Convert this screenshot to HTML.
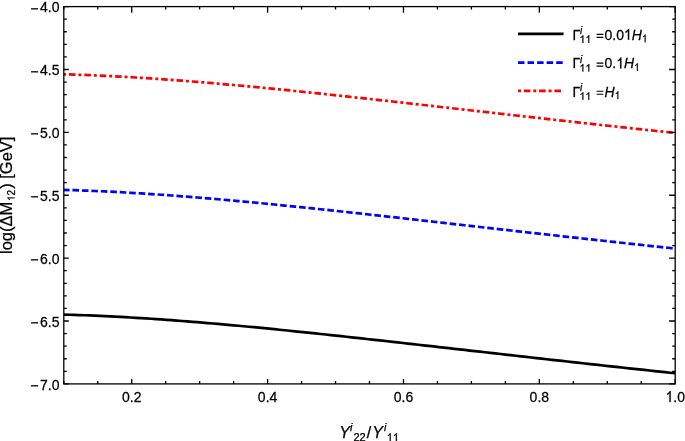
<!DOCTYPE html>
<html><head><meta charset="utf-8"><style>
html,body{margin:0;padding:0;background:#fff;}
svg{display:block;will-change:transform;}
text{font-family:"Liberation Sans",sans-serif;fill:#000;font-kerning:none;stroke:#000;stroke-width:0.25px;}
.one{stroke:#000;stroke-width:0.25px;vector-effect:non-scaling-stroke;}
.it{font-style:italic;}
.h,.hx,.hH{fill:transparent;stroke:none;}
</style></head><body>
<svg width="685" height="441" viewBox="0 0 685 441">
<rect width="685" height="441" fill="#fff"/>
<defs><clipPath id="c"><rect x="63.80" y="6.60" width="611.40" height="377.30"/></clipPath></defs>

<g clip-path="url(#c)" fill="none" stroke-width="2.7">
<polyline points="63.80,74.31 68.94,74.45 74.08,74.61 79.21,74.78 84.35,74.97 89.49,75.16 94.63,75.38 99.76,75.60 104.90,75.84 110.04,76.08 115.18,76.34 120.32,76.61 125.45,76.90 130.59,77.19 135.73,77.49 140.87,77.81 146.01,78.14 151.14,78.47 156.28,78.82 161.42,79.17 166.56,79.53 171.69,79.91 176.83,80.29 181.97,80.68 187.11,81.08 192.25,81.48 197.38,81.90 202.52,82.32 207.66,82.75 212.80,83.19 217.93,83.63 223.07,84.08 228.21,84.54 233.35,85.00 238.49,85.47 243.62,85.95 248.76,86.43 253.90,86.91 259.04,87.41 264.17,87.90 269.31,88.41 274.45,88.91 279.59,89.43 284.73,89.94 289.86,90.46 295.00,90.99 300.14,91.52 305.28,92.05 310.42,92.59 315.55,93.13 320.69,93.67 325.83,94.21 330.97,94.76 336.10,95.31 341.24,95.87 346.38,96.43 351.52,96.99 356.66,97.55 361.79,98.11 366.93,98.68 372.07,99.25 377.21,99.81 382.34,100.39 387.48,100.96 392.62,101.53 397.76,102.11 402.90,102.68 408.03,103.26 413.17,103.84 418.31,104.42 423.45,105.00 428.58,105.58 433.72,106.16 438.86,106.74 444.00,107.32 449.14,107.91 454.27,108.49 459.41,109.07 464.55,109.65 469.69,110.24 474.83,110.82 479.96,111.40 485.10,111.98 490.24,112.56 495.38,113.15 500.51,113.73 505.65,114.31 510.79,114.89 515.93,115.47 521.07,116.04 526.20,116.62 531.34,117.20 536.48,117.77 541.62,118.35 546.75,118.92 551.89,119.50 557.03,120.07 562.17,120.64 567.31,121.21 572.44,121.78 577.58,122.35 582.72,122.92 587.86,123.49 592.99,124.05 598.13,124.62 603.27,125.18 608.41,125.75 613.55,126.31 618.68,126.87 623.82,127.43 628.96,127.99 634.10,128.55 639.24,129.11 644.37,129.66 649.51,130.22 654.65,130.77 659.79,131.33 664.92,131.88 670.06,132.43 675.20,132.98" stroke="#f00" stroke-dasharray="6.6 2.9 3.0 2.89" stroke-dashoffset="10.24"/>
<polyline points="63.80,189.91 68.94,190.05 74.08,190.21 79.21,190.38 84.35,190.57 89.49,190.76 94.63,190.98 99.76,191.20 104.90,191.44 110.04,191.68 115.18,191.94 120.32,192.21 125.45,192.50 130.59,192.79 135.73,193.09 140.87,193.41 146.01,193.74 151.14,194.07 156.28,194.42 161.42,194.77 166.56,195.13 171.69,195.51 176.83,195.89 181.97,196.28 187.11,196.68 192.25,197.08 197.38,197.50 202.52,197.92 207.66,198.35 212.80,198.79 217.93,199.23 223.07,199.68 228.21,200.14 233.35,200.60 238.49,201.07 243.62,201.55 248.76,202.03 253.90,202.51 259.04,203.01 264.17,203.50 269.31,204.01 274.45,204.51 279.59,205.03 284.73,205.54 289.86,206.06 295.00,206.59 300.14,207.12 305.28,207.65 310.42,208.19 315.55,208.73 320.69,209.27 325.83,209.81 330.97,210.36 336.10,210.91 341.24,211.47 346.38,212.03 351.52,212.59 356.66,213.15 361.79,213.71 366.93,214.28 372.07,214.85 377.21,215.41 382.34,215.99 387.48,216.56 392.62,217.13 397.76,217.71 402.90,218.28 408.03,218.86 413.17,219.44 418.31,220.02 423.45,220.60 428.58,221.18 433.72,221.76 438.86,222.34 444.00,222.92 449.14,223.51 454.27,224.09 459.41,224.67 464.55,225.25 469.69,225.84 474.83,226.42 479.96,227.00 485.10,227.58 490.24,228.16 495.38,228.75 500.51,229.33 505.65,229.91 510.79,230.49 515.93,231.07 521.07,231.64 526.20,232.22 531.34,232.80 536.48,233.37 541.62,233.95 546.75,234.52 551.89,235.10 557.03,235.67 562.17,236.24 567.31,236.81 572.44,237.38 577.58,237.95 582.72,238.52 587.86,239.09 592.99,239.65 598.13,240.22 603.27,240.78 608.41,241.35 613.55,241.91 618.68,242.47 623.82,243.03 628.96,243.59 634.10,244.15 639.24,244.71 644.37,245.26 649.51,245.82 654.65,246.37 659.79,246.93 664.92,247.48 670.06,248.03 675.20,248.58" stroke="#00f" stroke-dasharray="6.6 2.87" stroke-dashoffset="0.83"/>
<polyline points="63.80,314.61 68.94,314.75 74.08,314.91 79.21,315.08 84.35,315.27 89.49,315.46 94.63,315.68 99.76,315.90 104.90,316.14 110.04,316.38 115.18,316.64 120.32,316.91 125.45,317.20 130.59,317.49 135.73,317.79 140.87,318.11 146.01,318.44 151.14,318.77 156.28,319.12 161.42,319.47 166.56,319.83 171.69,320.21 176.83,320.59 181.97,320.98 187.11,321.38 192.25,321.78 197.38,322.20 202.52,322.62 207.66,323.05 212.80,323.49 217.93,323.93 223.07,324.38 228.21,324.84 233.35,325.30 238.49,325.77 243.62,326.25 248.76,326.73 253.90,327.21 259.04,327.71 264.17,328.20 269.31,328.71 274.45,329.21 279.59,329.73 284.73,330.24 289.86,330.76 295.00,331.29 300.14,331.82 305.28,332.35 310.42,332.89 315.55,333.43 320.69,333.97 325.83,334.51 330.97,335.06 336.10,335.61 341.24,336.17 346.38,336.73 351.52,337.29 356.66,337.85 361.79,338.41 366.93,338.98 372.07,339.55 377.21,340.11 382.34,340.69 387.48,341.26 392.62,341.83 397.76,342.41 402.90,342.98 408.03,343.56 413.17,344.14 418.31,344.72 423.45,345.30 428.58,345.88 433.72,346.46 438.86,347.04 444.00,347.62 449.14,348.21 454.27,348.79 459.41,349.37 464.55,349.95 469.69,350.54 474.83,351.12 479.96,351.70 485.10,352.28 490.24,352.86 495.38,353.45 500.51,354.03 505.65,354.61 510.79,355.19 515.93,355.77 521.07,356.34 526.20,356.92 531.34,357.50 536.48,358.07 541.62,358.65 546.75,359.22 551.89,359.80 557.03,360.37 562.17,360.94 567.31,361.51 572.44,362.08 577.58,362.65 582.72,363.22 587.86,363.79 592.99,364.35 598.13,364.92 603.27,365.48 608.41,366.05 613.55,366.61 618.68,367.17 623.82,367.73 628.96,368.29 634.10,368.85 639.24,369.41 644.37,369.96 649.51,370.52 654.65,371.07 659.79,371.63 664.92,372.18 670.06,372.73 675.20,373.28" stroke="#000"/>
</g>
<rect x="63.8" y="6.6" width="611.4000000000001" height="377.29999999999995" fill="none" stroke="#000" stroke-width="1.3"/>
<path d="M63.8,6.60h5.0M675.2,6.60h-6.1M63.8,19.18h3.0M675.2,19.18h-3.0M63.8,31.75h3.0M675.2,31.75h-3.0M63.8,44.33h3.0M675.2,44.33h-3.0M63.8,56.91h3.0M675.2,56.91h-3.0M63.8,69.48h5.0M675.2,69.48h-6.1M63.8,82.06h3.0M675.2,82.06h-3.0M63.8,94.64h3.0M675.2,94.64h-3.0M63.8,107.21h3.0M675.2,107.21h-3.0M63.8,119.79h3.0M675.2,119.79h-3.0M63.8,132.37h5.0M675.2,132.37h-6.1M63.8,144.94h3.0M675.2,144.94h-3.0M63.8,157.52h3.0M675.2,157.52h-3.0M63.8,170.10h3.0M675.2,170.10h-3.0M63.8,182.67h3.0M675.2,182.67h-3.0M63.8,195.25h5.0M675.2,195.25h-6.1M63.8,207.83h3.0M675.2,207.83h-3.0M63.8,220.40h3.0M675.2,220.40h-3.0M63.8,232.98h3.0M675.2,232.98h-3.0M63.8,245.56h3.0M675.2,245.56h-3.0M63.8,258.13h5.0M675.2,258.13h-6.1M63.8,270.71h3.0M675.2,270.71h-3.0M63.8,283.29h3.0M675.2,283.29h-3.0M63.8,295.86h3.0M675.2,295.86h-3.0M63.8,308.44h3.0M675.2,308.44h-3.0M63.8,321.02h5.0M675.2,321.02h-6.1M63.8,333.59h3.0M675.2,333.59h-3.0M63.8,346.17h3.0M675.2,346.17h-3.0M63.8,358.75h3.0M675.2,358.75h-3.0M63.8,371.32h3.0M675.2,371.32h-3.0M63.8,383.90h5.0M675.2,383.90h-6.1M63.80,383.9v-3.0M63.80,6.6v3.0M97.77,383.9v-3.0M97.77,6.6v3.0M131.73,383.9v-5.0M131.73,6.6v6.1M165.70,383.9v-3.0M165.70,6.6v3.0M199.67,383.9v-3.0M199.67,6.6v3.0M233.63,383.9v-3.0M233.63,6.6v3.0M267.60,383.9v-5.0M267.60,6.6v6.1M301.57,383.9v-3.0M301.57,6.6v3.0M335.53,383.9v-3.0M335.53,6.6v3.0M369.50,383.9v-3.0M369.50,6.6v3.0M403.47,383.9v-5.0M403.47,6.6v6.1M437.43,383.9v-3.0M437.43,6.6v3.0M471.40,383.9v-3.0M471.40,6.6v3.0M505.37,383.9v-3.0M505.37,6.6v3.0M539.33,383.9v-5.0M539.33,6.6v6.1M573.30,383.9v-3.0M573.30,6.6v3.0M607.27,383.9v-3.0M607.27,6.6v3.0M641.23,383.9v-3.0M641.23,6.6v3.0M675.20,383.9v-5.0M675.20,6.6v6.1" stroke="#000" stroke-width="1.3" fill="none"/>
<text transform="translate(59.5,12.20) scale(1,1.08)" font-size="14" text-anchor="end"><tspan dy="1.4">−</tspan><tspan dx="1.3" dy="-1.4">4.0</tspan></text>
<text transform="translate(59.5,75.08) scale(1,1.08)" font-size="14" text-anchor="end"><tspan dy="1.4">−</tspan><tspan dx="1.3" dy="-1.4">4.5</tspan></text>
<text transform="translate(59.5,137.97) scale(1,1.08)" font-size="14" text-anchor="end"><tspan dy="1.4">−</tspan><tspan dx="1.3" dy="-1.4">5.0</tspan></text>
<text transform="translate(59.5,200.85) scale(1,1.08)" font-size="14" text-anchor="end"><tspan dy="1.4">−</tspan><tspan dx="1.3" dy="-1.4">5.5</tspan></text>
<text transform="translate(59.5,263.73) scale(1,1.08)" font-size="14" text-anchor="end"><tspan dy="1.4">−</tspan><tspan dx="1.3" dy="-1.4">6.0</tspan></text>
<text transform="translate(59.5,326.62) scale(1,1.08)" font-size="14" text-anchor="end"><tspan dy="1.4">−</tspan><tspan dx="1.3" dy="-1.4">6.5</tspan></text>
<text transform="translate(59.5,389.50) scale(1,1.08)" font-size="14" text-anchor="end"><tspan dy="1.4">−</tspan><tspan dx="1.3" dy="-1.4">7.0</tspan></text>
<text transform="translate(131.73,401.9) scale(1,1.08)" font-size="14" text-anchor="middle">0.2</text>
<text transform="translate(267.60,401.9) scale(1,1.08)" font-size="14" text-anchor="middle">0.4</text>
<text transform="translate(403.47,401.9) scale(1,1.08)" font-size="14" text-anchor="middle">0.6</text>
<text transform="translate(539.33,401.9) scale(1,1.08)" font-size="14" text-anchor="middle">0.8</text>
<text transform="translate(675.20,401.9) scale(1,1.08)" font-size="14" text-anchor="middle"><tspan class="h">1</tspan>.0</text>
<text transform="translate(12,195.3) rotate(-90)" font-size="16.5" text-anchor="middle">log(ΔM<tspan font-size="10" dx="0.6" dy="2.5"><tspan class="h">1</tspan>2</tspan><tspan dx="1.2" dy="-2.5">) [GeV]</tspan></text>
<text x="339.2" y="437.6" font-size="16" class="it">Y</text>
<text x="350.0" y="430.8" font-size="11" class="it">i</text>
<text x="353.4" y="441.0" font-size="11">22</text>
<text x="366.8" y="437.6" font-size="16">/</text>
<text x="372.2" y="437.6" font-size="16" class="it">Y</text>
<text x="384.1" y="430.8" font-size="11" class="it">i</text>
<text x="386.6" y="441.0" font-size="11"><tspan class="h">1</tspan><tspan class="h">1</tspan></text>
<line x1="518" y1="33.9" x2="563.6" y2="33.9" stroke="#000" stroke-width="2.7"/>
<text transform="translate(572.4,39.7) scale(1,1.102)" font-size="14">Γ</text>
<path d="M596.6,34.35h6.8M596.6,37.35h6.8" stroke="#000" stroke-width="1.15"/>
<text x="580.0" y="33.9" font-size="10" class="it">i</text>
<text x="579.4" y="42.9" font-size="10.6"><tspan class="h">1</tspan><tspan class="h">1</tspan></text>
<text transform="translate(596.3,39.7) scale(1,1.08)" font-size="14"><tspan class="hx">=</tspan>0.0<tspan class="h">1</tspan><tspan class="it hH">H</tspan><tspan font-size="10" dy="2.3"><tspan class="h">1</tspan></tspan></text>
<line x1="518" y1="62.6" x2="563" y2="62.6" stroke="#00f" stroke-width="2.7" stroke-dasharray="6.5 3.05"/>
<text transform="translate(572.4,68.4) scale(1,1.102)" font-size="14">Γ</text>
<path d="M596.6,63.05h6.8M596.6,66.05h6.8" stroke="#000" stroke-width="1.15"/>
<text x="580.0" y="62.6" font-size="10" class="it">i</text>
<text x="579.4" y="71.6" font-size="10.6"><tspan class="h">1</tspan><tspan class="h">1</tspan></text>
<text transform="translate(596.3,68.4) scale(1,1.08)" font-size="14"><tspan class="hx">=</tspan>0.<tspan class="h">1</tspan><tspan class="it hH">H</tspan><tspan font-size="10" dy="2.3"><tspan class="h">1</tspan></tspan></text>
<line x1="518" y1="90.8" x2="563" y2="90.8" stroke="#f00" stroke-width="2.7" stroke-dasharray="6.6 2.9 3.0 2.8" stroke-dashoffset="9.5"/>
<text transform="translate(572.4,96.6) scale(1,1.102)" font-size="14">Γ</text>
<path d="M596.6,91.25h6.8M596.6,94.25h6.8" stroke="#000" stroke-width="1.15"/>
<text x="580.0" y="90.8" font-size="10" class="it">i</text>
<text x="579.4" y="99.8" font-size="10.6"><tspan class="h">1</tspan><tspan class="h">1</tspan></text>
<text transform="translate(596.3,96.6) scale(1,1.08)" font-size="14"><tspan class="hx">=</tspan><tspan class="it hH">H</tspan><tspan font-size="10" dy="2.3"><tspan class="h">1</tspan></tspan></text>
<path transform="matrix(0.00684,0.00000,0.00000,-0.00738,665.46,401.90)" d="M763,0H583V1147Q518,1085 415,1024.5Q312,964 240,937V1111Q369,1172 477.5,1269Q586,1366 638,1466H763Z" class="one"/>
<path transform="matrix(0.00000,-0.00488,-0.00488,0.00000,14.50,201.15)" d="M763,0H583V1147Q518,1085 415,1024.5Q312,964 240,937V1111Q369,1172 477.5,1269Q586,1366 638,1466H763Z" class="one"/>
<path transform="matrix(0.00537,0.00000,0.00000,-0.00537,386.60,441.00)" d="M763,0H583V1147Q518,1085 415,1024.5Q312,964 240,937V1111Q369,1172 477.5,1269Q586,1366 638,1466H763Z" class="one"/>
<path transform="matrix(0.00537,0.00000,0.00000,-0.00537,392.73,441.00)" d="M763,0H583V1147Q518,1085 415,1024.5Q312,964 240,937V1111Q369,1172 477.5,1269Q586,1366 638,1466H763Z" class="one"/>
<path transform="matrix(0.00518,0.00000,0.00000,-0.00518,579.40,42.90)" d="M763,0H583V1147Q518,1085 415,1024.5Q312,964 240,937V1111Q369,1172 477.5,1269Q586,1366 638,1466H763Z" class="one"/>
<path transform="matrix(0.00518,0.00000,0.00000,-0.00518,585.31,42.90)" d="M763,0H583V1147Q518,1085 415,1024.5Q312,964 240,937V1111Q369,1172 477.5,1269Q586,1366 638,1466H763Z" class="one"/>
<path transform="matrix(0.00684,0.00000,0.00000,-0.00738,623.94,39.70)" d="M763,0H583V1147Q518,1085 415,1024.5Q312,964 240,937V1111Q369,1172 477.5,1269Q586,1366 638,1466H763Z" class="one"/>
<text class="it" transform="translate(631.73,39.70) scale(1,1.102)" font-size="14">H</text>
<path transform="matrix(0.00488,0.00000,0.00000,-0.00527,641.85,42.18)" d="M763,0H583V1147Q518,1085 415,1024.5Q312,964 240,937V1111Q369,1172 477.5,1269Q586,1366 638,1466H763Z" class="one"/>
<path transform="matrix(0.00518,0.00000,0.00000,-0.00518,579.40,71.60)" d="M763,0H583V1147Q518,1085 415,1024.5Q312,964 240,937V1111Q369,1172 477.5,1269Q586,1366 638,1466H763Z" class="one"/>
<path transform="matrix(0.00518,0.00000,0.00000,-0.00518,585.31,71.60)" d="M763,0H583V1147Q518,1085 415,1024.5Q312,964 240,937V1111Q369,1172 477.5,1269Q586,1366 638,1466H763Z" class="one"/>
<path transform="matrix(0.00684,0.00000,0.00000,-0.00738,616.16,68.40)" d="M763,0H583V1147Q518,1085 415,1024.5Q312,964 240,937V1111Q369,1172 477.5,1269Q586,1366 638,1466H763Z" class="one"/>
<text class="it" transform="translate(623.95,68.40) scale(1,1.102)" font-size="14">H</text>
<path transform="matrix(0.00488,0.00000,0.00000,-0.00527,634.07,70.88)" d="M763,0H583V1147Q518,1085 415,1024.5Q312,964 240,937V1111Q369,1172 477.5,1269Q586,1366 638,1466H763Z" class="one"/>
<path transform="matrix(0.00518,0.00000,0.00000,-0.00518,579.40,99.80)" d="M763,0H583V1147Q518,1085 415,1024.5Q312,964 240,937V1111Q369,1172 477.5,1269Q586,1366 638,1466H763Z" class="one"/>
<path transform="matrix(0.00518,0.00000,0.00000,-0.00518,585.31,99.80)" d="M763,0H583V1147Q518,1085 415,1024.5Q312,964 240,937V1111Q369,1172 477.5,1269Q586,1366 638,1466H763Z" class="one"/>
<text class="it" transform="translate(604.48,96.60) scale(1,1.102)" font-size="14">H</text>
<path transform="matrix(0.00488,0.00000,0.00000,-0.00527,614.60,99.08)" d="M763,0H583V1147Q518,1085 415,1024.5Q312,964 240,937V1111Q369,1172 477.5,1269Q586,1366 638,1466H763Z" class="one"/>
</svg></body></html>
